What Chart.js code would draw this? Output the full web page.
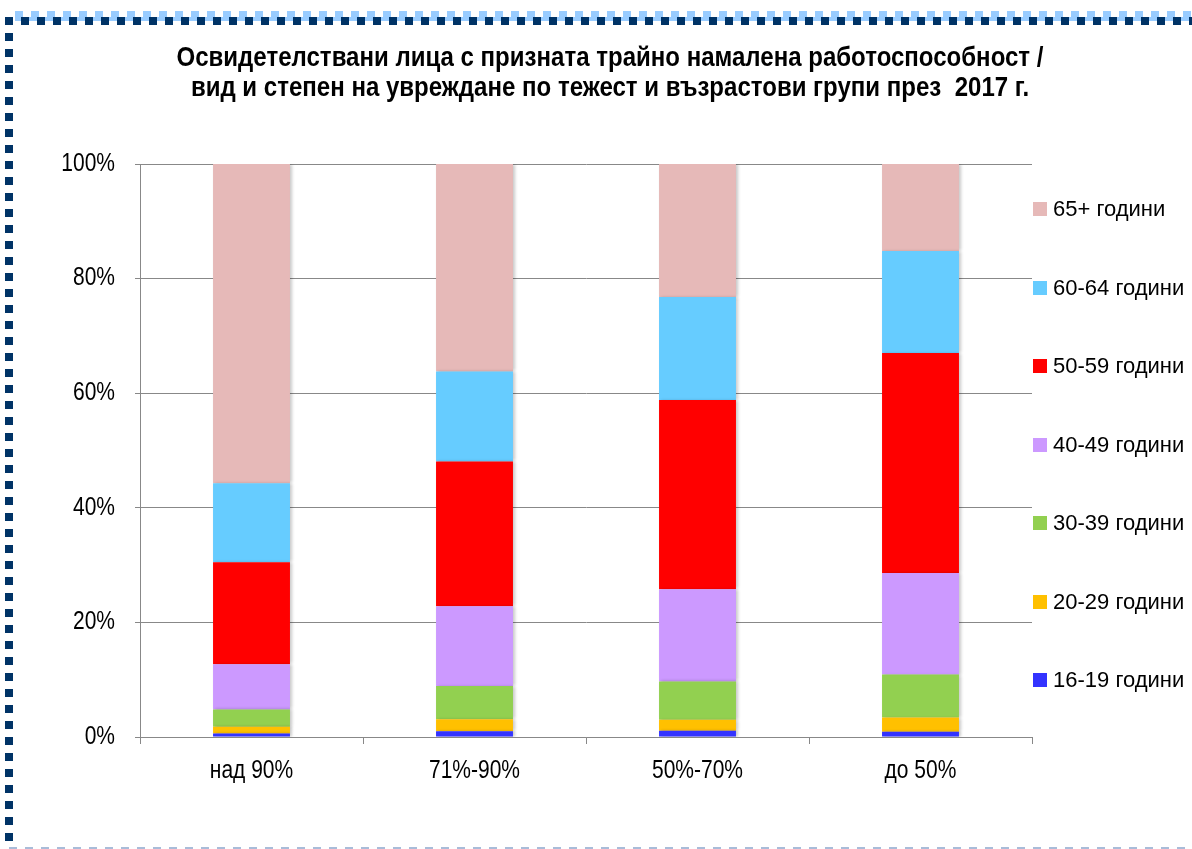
<!DOCTYPE html>
<html lang="bg">
<head>
<meta charset="utf-8">
<title>Освидетелствани лица 2017</title>
<script src="https://cdn.jsdelivr.net/npm/chart.js@4.4.1/dist/chart.umd.min.js"></script>
<style>
  html, body { margin: 0; padding: 0; background: #fff; }
  #page { position: relative; width: 1192px; height: 849px; overflow: hidden; background: #fff; }
  #chart { position: absolute; left: 0; top: 0; }
  /* decorative frame */
  .frame-top-band { position: absolute; left: 15px; right: 0; top: 17px; height: 4px; background: #99ccff; }
  .frame-top-bumps { position: absolute; left: 15px; right: 0; top: 11px; height: 6px;
    background: repeating-linear-gradient(to right, #99ccff 0 8px, transparent 8px 16px); }
  .frame-top-dots { position: absolute; left: 5px; right: 0; top: 17px; height: 8px;
    background: repeating-linear-gradient(to right, #003366 0 8px, transparent 8px 16px); }
  .frame-left-dots { position: absolute; left: 5px; width: 8px; top: 17px; height: 825px;
    background: repeating-linear-gradient(to bottom, #003366 0 8px, transparent 8px 16px); }
  .frame-bottom { position: absolute; left: 9px; right: 0; top: 847px; height: 2px;
    background: repeating-linear-gradient(to right, #a9bcd9 0 8px, transparent 8px 16px); }
  #title { position: absolute; left: 60px; width: 1100px; top: 42px; text-align: center;
    font-family: 'Liberation Sans', Arial, sans-serif;
    font-weight: bold; font-size: 27px; line-height: 30px; color: #000; white-space: pre;
    transform: scaleX(0.89); transform-origin: 550px 0; }
  #legend { position: absolute; left: 1033px; top: 0; }
  .lg-item { position: absolute; left: 0; width: 160px; height: 24px; display: flex; align-items: center;
    font-family: 'Liberation Sans', Arial, sans-serif; font-size: 22px; color: #000; white-space: nowrap; }
  .lg-box { width: 14px; height: 14px; margin-right: 6px; flex: none; }
</style>
</head>
<body>
<div id="page">
  <canvas id="chart" width="1192" height="849"></canvas>
  <div class="frame-top-band"></div>
  <div class="frame-top-bumps"></div>
  <div class="frame-top-dots"></div>
  <div class="frame-left-dots"></div>
  <div class="frame-bottom"></div>
  <div id="title"></div>
  <div id="legend"></div>
</div>
<script>
const titleLines = [
  "Освидетелствани лица с призната трайно намалена работоспособност /",
  "вид и степен на увреждане по тежест и възрастови групи през  2017 г."
];

const categories = ["над 90%", "71%-90%", "50%-70%", "до 50%"];

const ageGroups = ["16-19 години", "20-29 години", "30-39 години", "40-49 години",
                   "50-59 години", "60-64 години", "65+ години"];
const groupColors = ["#3333ff", "#ffc000", "#92d050", "#cc99ff", "#ff0000", "#66ccff", "#e6b9b8"];

// shares in % per severity group
const age16to19 = [0.6, 1.0, 1.1, 0.9];
const age20to29 = [1.2, 2.1, 1.9, 2.5];
const age30to39 = [3.0, 5.8, 6.7, 7.5];
const age40to49 = [7.9, 13.9, 16.1, 17.7];
const age50to59 = [17.8, 25.3, 33.0, 38.4];
const age60to64 = [13.8, 15.7, 18.0, 17.8];
const age65plus = [55.7, 36.2, 23.2, 15.2];

const yTicks = [0, 20, 40, 60, 80, 100];

const seriesValues = [age16to19, age20to29, age30to39, age40to49, age50to59, age60to64, age65plus];

document.getElementById("title").textContent = titleLines.join("\n");

const datasets = ageGroups.map((name, i) => ({
  label: name,
  data: seriesValues[i],
  backgroundColor: groupColors[i],
  borderWidth: 0,
  categoryPercentage: 1.0,
  barPercentage: 0.345
}));

// soft shadow on the right side of the columns
const barShadow = {
  id: "barShadow",
  beforeDatasetsDraw(chart) {
    const ctx = chart.ctx;
    ctx.save();
    ctx.shadowColor = "rgba(0,0,0,0.22)";
    ctx.shadowBlur = 3;
    ctx.shadowOffsetX = 2;
    ctx.shadowOffsetY = 0;
  },
  afterDatasetsDraw(chart) {
    chart.ctx.restore();
  }
};

// axis labels use a condensed look: squeeze text horizontally around its anchor
const narrowText = {
  id: "narrowText",
  beforeInit(chart) {
    const ctx = chart.ctx;
    const origFill = ctx.fillText.bind(ctx);
    ctx.fillText = function (text, x, y, maxWidth) {
      ctx.save();
      ctx.translate(x, y);
      ctx.scale(0.84, 1);
      if (maxWidth === undefined) origFill(text, 0, 0);
      else origFill(text, 0, 0, maxWidth / 0.84);
      ctx.restore();
    };
  }
};

const tickFont = { family: "'Liberation Sans', Arial, sans-serif", size: 25 };

const chart = new Chart(document.getElementById("chart"), {
  type: "bar",
  data: { labels: categories, datasets: datasets },
  plugins: [barShadow, narrowText],
  options: {
    responsive: false,
    animation: false,
    layout: { padding: { left: 40, top: 164, right: 160, bottom: 0 } },
    plugins: {
      legend: { display: false },
      tooltip: { enabled: false },
      title: { display: false }
    },
    scales: {
      x: {
        stacked: true,
        offset: true,
        grid: { display: true, drawOnChartArea: false, color: "#888", tickLength: 7, offset: true },
        border: { display: true, color: "#888", width: 1 },
        ticks: { font: tickFont, color: "#000", padding: 12 },
        afterFit(scale) { scale.height = 112; }
      },
      y: {
        stacked: true,
        min: 0,
        max: 100,
        afterBuildTicks(scale) { scale.ticks = yTicks.map(v => ({ value: v })); },
        grid: { color: "#888", tickLength: 5 },
        border: { display: true, color: "#888", width: 1 },
        ticks: { font: tickFont, color: "#000", padding: 20, callback: v => v + "%" },
        afterFit(scale) { scale.width = 100; }
      }
    }
  }
});

// legend, top item is the last stacked series
const legendEl = document.getElementById("legend");
const legendTop = 209, legendStep = 78.5;
ageGroups.slice().reverse().forEach((name, k) => {
  const idx = ageGroups.length - 1 - k;
  const item = document.createElement("div");
  item.className = "lg-item";
  item.style.top = (legendTop + k * legendStep - 12) + "px";
  const box = document.createElement("span");
  box.className = "lg-box";
  box.style.background = groupColors[idx];
  item.appendChild(box);
  item.appendChild(document.createTextNode(name));
  legendEl.appendChild(item);
});
</script>
</body>
</html>
